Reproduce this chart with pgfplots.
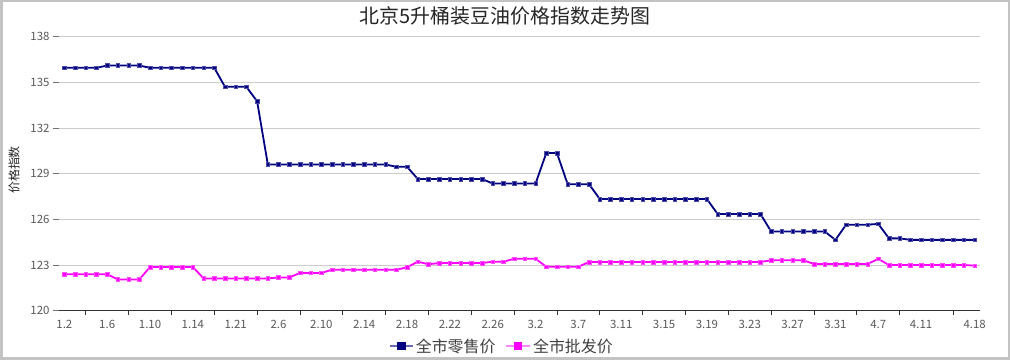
\documentclass[border=0pt]{standalone}
\usepackage{fontspec}
\setmainfont{Noto Sans CJK SC}
\usepackage{pgfplots}
\usepackage{pgfplotstable}
\pgfplotsset{compat=1.18}
\definecolor{navy}{HTML}{000080}
\definecolor{navyL}{HTML}{6A6AB5}
\definecolor{mag}{HTML}{FF00FF}
\definecolor{magL}{HTML}{FF88FF}
\definecolor{gridc}{HTML}{CCCCCC}
\definecolor{framec}{HTML}{C3C3C3}
\definecolor{labc}{HTML}{595959}

\pgfplotstableread{
x retail wholesale
0 135.95 122.40
1 135.95 122.40
2 135.95 122.40
3 135.95 122.40
4 136.10 122.40
5 136.10 122.05
6 136.10 122.05
7 136.10 122.05
8 135.95 122.87
9 135.95 122.87
10 135.95 122.87
11 135.95 122.87
12 135.95 122.87
13 135.95 122.12
14 135.95 122.12
15 134.70 122.12
16 134.70 122.12
17 134.70 122.12
18 133.75 122.12
19 129.60 122.12
20 129.60 122.18
21 129.60 122.18
22 129.60 122.48
23 129.60 122.48
24 129.60 122.48
25 129.60 122.69
26 129.60 122.69
27 129.60 122.69
28 129.60 122.69
29 129.60 122.69
30 129.60 122.69
31 129.45 122.69
32 129.45 122.85
33 128.65 123.22
34 128.65 123.05
35 128.65 123.13
36 128.65 123.13
37 128.65 123.13
38 128.65 123.13
39 128.65 123.13
40 128.35 123.22
41 128.35 123.22
42 128.35 123.41
43 128.35 123.41
44 128.35 123.41
45 130.35 122.89
46 130.35 122.89
47 128.30 122.89
48 128.30 122.89
49 128.30 123.20
50 127.33 123.20
51 127.33 123.20
52 127.33 123.20
53 127.33 123.20
54 127.33 123.20
55 127.33 123.20
56 127.33 123.20
57 127.33 123.20
58 127.33 123.20
59 127.33 123.20
60 127.33 123.20
61 126.35 123.20
62 126.35 123.20
63 126.35 123.20
64 126.35 123.20
65 126.35 123.20
66 125.20 123.31
67 125.20 123.31
68 125.20 123.31
69 125.20 123.31
70 125.20 123.07
71 125.20 123.07
72 124.65 123.07
73 125.65 123.07
74 125.65 123.07
75 125.65 123.07
76 125.70 123.40
77 124.75 123.00
78 124.75 123.00
79 124.65 123.00
80 124.65 123.00
81 124.65 123.00
82 124.65 123.00
83 124.65 123.00
84 124.65 123.00
85 124.65 122.96
}\data

\begin{document}
\begin{tikzpicture}
\useasboundingbox (0,0) rectangle (1010bp,360bp);
\fill[white] (0,0) rectangle (1010bp,360bp);
\draw[framec, line width=2.5bp] (1.25bp,1.25bp) rectangle (1008.75bp,358.75bp);
\begin{axis}[
  at={(59bp,49.3bp)}, anchor=south west,
  width=921bp, height=274.1bp, scale only axis,
  xmin=-0.5, xmax=85.5, ymin=120, ymax=138,
  axis x line*=bottom, axis y line*=left,
  x axis line style={-, draw=black!80, line width=0.8bp},
  y axis line style={draw=none},
  ytick={120,123,126,129,132,135,138},
  ymajorgrids, grid style={gridc, line width=0.8bp},
  tick align=outside, major tick length=6bp,
  ytick style={draw=black!55, line width=0.8bp},
  xtick={0,4,8,12,16,20,24,28,32,36,40,44,48,52,56,60,64,68,72,76,80,85},
  xticklabels={1.2,1.6,1.10,1.14,1.21,2.6,2.10,2.14,2.18,2.22,2.26,3.2,3.7,3.11,3.15,3.19,3.23,3.27,3.31,4.7,4.11,4.18},
  xtick style={draw=none},
  extra x ticks={2,6,10,14,18,22,26,30,34,38,42,46,50,54,58,62,66,70,74,78,83},
  extra x tick labels={},
  extra x tick style={grid=none, major tick length=4bp, xtick style={draw=black!80, line width=0.8bp}},
  /pgf/number format/assume math mode=true,
  ticklabel style={font=\fontsize{11.5}{13}\selectfont, text=labc},
  yticklabel style={/pgf/number format/fixed},
  legend style={at={(0.481,-0.129)}, anchor=center, draw=none, fill=none,
    legend columns=2, font=\fontsize{16}{18}\selectfont, text=black!75,
    /tikz/every even column/.append style={column sep=8bp}},
  legend cell align=left,
]
\addplot[navy, line width=1.8bp, mark=square*, mark size=1.8bp,
  mark options={fill=navy, draw=navy!70!white, line width=0.5bp},
  legend image code/.code={\draw[navyL, line width=1.6bp] (0bp,0bp) -- (23bp,0bp); \fill[navy] (8bp,-3.5bp) rectangle (15bp,3.5bp);}]
  table[x=x, y=retail]{\data};
\addlegendentry{全市零售价}
\addplot[mag, line width=1.8bp, mark=square*, mark size=1.8bp,
  mark options={fill=mag, draw=mag!70!white, line width=0.5bp},
  legend image code/.code={\draw[magL, line width=1.6bp] (0bp,0bp) -- (24bp,0bp); \fill[mag] (9bp,-3bp) rectangle (15bp,3bp);}]
  table[x=x, y=wholesale]{\data};
\addlegendentry{全市批发价}
\end{axis}
\node[font=\fontsize{20}{24}\selectfont, text=black!85] at (505bp,344bp) {北京5升桶装豆油价格指数走势图};
\node[rotate=90, font=\fontsize{12}{14}\selectfont, text=black!85] at (14bp,190bp) {价格指数};
\end{tikzpicture}
\end{document}
